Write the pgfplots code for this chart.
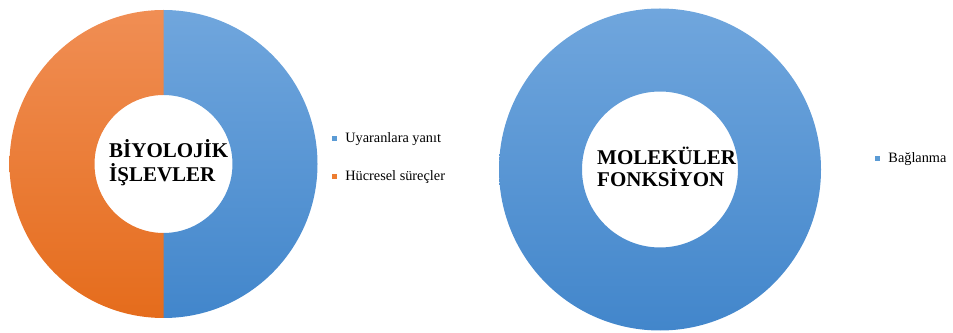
\documentclass[border=0pt]{standalone}
\usepackage{fontspec}
\setmainfont{Liberation Serif}
\usepackage{pgfplots}
\usepackage{pgfplotstable}
\pgfplotsset{compat=1.18}

\definecolor{blueTop}{RGB}{112,166,221}
\definecolor{blueBot}{RGB}{66,134,203}
\definecolor{blueKey}{RGB}{91,155,213}
\definecolor{orangeTop}{RGB}{240,142,84}
\definecolor{orangeBot}{RGB}{229,108,28}
\definecolor{orangeKey}{RGB}{237,125,49}

\pgfplotstableread[col sep=comma]{
label,value
Uyaranlara yanıt,50
Hücresel süreçler,50
}\biyolojik

\pgfplotstableread[col sep=comma]{
label,value
Bağlanma,100
}\molekuler

% ring segment: outer radius, inner radius, start angle, end angle, top colour, bottom colour
\newcommand\ringslice[6]{%
  \shade[top color=#5, bottom color=#6]
    (axis cs:0,0) ++(#3:#1) arc[start angle=#3, end angle=#4, radius=#1]
    -- ++(#4:{#2-#1}) arc[start angle=#4, end angle=#3, radius=#2] -- cycle;}

\pgfplotsset{
  donut/.style={scale only axis, anchor=center, xmin=-1, xmax=1, ymin=-1, ymax=1,
    hide axis, clip=false,
    legend image code/.code={\path[##1, draw=none] (-2.6pt,-2.6pt) rectangle (2.6pt,2.6pt);},
    legend cell align=left,
    legend style={draw=none, fill=none, inner sep=0pt, outer sep=0pt, anchor=west,
      font=\fontsize{14.3}{17}\selectfont, row sep=25pt,
      nodes={inner sep=0pt, text height=10pt, text depth=3pt},
      /tikz/every odd column/.append style={column sep=8.5pt}}},
}

\begin{document}
\begin{tikzpicture}
% slice angles, clockwise from twelve o'clock
\pgfplotstablegetelem{0}{value}\of\biyolojik \let\bioA\pgfplotsretval
\pgfplotstablegetelem{1}{value}\of\biyolojik \let\bioB\pgfplotsretval
\pgfmathsetmacro\bioTot{\bioA+\bioB}
\pgfmathsetmacro\bioM{90-360*(\bioA/\bioTot)}
\pgfmathsetmacro\bioE{90-360*((\bioA+\bioB)/\bioTot)}
\pgfplotstablegetelem{0}{value}\of\molekuler \let\molA\pgfplotsretval
\pgfmathsetmacro\molE{90-360*(\molA/\molA)}

\begin{axis}[donut, at={(163.5pt,168pt)}, width=308pt, height=308pt,
  legend style={at={(1.046,0.520)}}]
  \addlegendimage{fill=blueKey}
  \addlegendentry{Uyaranlara yanıt}
  \addlegendimage{fill=orangeKey}
  \addlegendentry{Hücresel süreçler}
  \ringslice{154pt}{69pt}{90}{\bioM}{blueTop}{blueBot}
  \ringslice{154pt}{69pt}{\bioM}{\bioE}{orangeTop}{orangeBot}
\end{axis}

\begin{axis}[donut, at={(660pt,162.5pt)}, width=322pt, height=322pt,
  legend style={at={(1.167,0.533)}}]
  \addlegendimage{fill=blueKey}
  \addlegendentry{Bağlanma}
  \ringslice{161pt}{78pt}{90}{\molE}{blueTop}{blueBot}
\end{axis}

\begin{scope}[every node/.style={inner sep=0pt, anchor=base west,
    font=\fontsize{21}{24}\selectfont\bfseries}]
  \node at (109pt,174pt) {BİYOLOJİK};
  \node at (109pt,150pt) {İŞLEVLER};
  \node at (597pt,167pt) {MOLEKÜLER};
  \node at (597pt,145pt) {FONKSİYON};
\end{scope}

\pgfresetboundingbox
\path (0,0) rectangle (953pt,332pt);
\end{tikzpicture}
\end{document}
